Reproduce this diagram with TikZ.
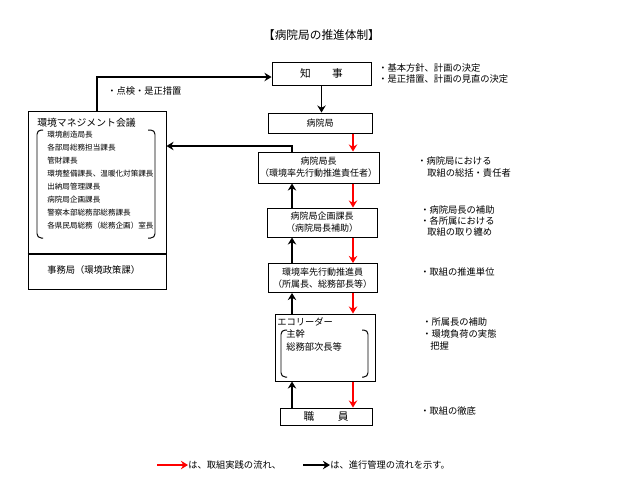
\documentclass[tikz,border=0pt]{standalone}
\usepackage{fontspec}
\setmainfont{Noto Sans CJK JP}
\usetikzlibrary{arrows.meta}
\begin{document}
\begin{tikzpicture}[x=.025cm,y=-.025cm,
  box/.style={draw,line width=.7pt,inner sep=0pt,align=center,font=\fontsize{6.4}{8.5}\selectfont},
  sz/.style 2 args={minimum width=#1*.025cm,minimum height=#2*.025cm},
  note/.style={anchor=west,inner sep=0pt,font=\fontsize{6.6}{8}\selectfont},
  item/.style={anchor=west,inner sep=0pt,font=\fontsize{5.4}{7}\selectfont},
  flow/.style={red,line width=1.6pt,-{Stealth[length=5pt,width=6pt]}},
  ctrl/.style={line width=1.4pt,-{Stealth[length=5pt,width=6pt]}}]
\useasboundingbox(0,0)rectangle(643,483);
\node[font=\fontsize{8.3}{10}\selectfont,inner sep=0pt](title)at(321.5,35){【病院局の推進体制】};
% chain of boxes
\node[box,sz={99}{23},font=\fontsize{7.6}{9}\selectfont](chiji)at(321.5,73.5){知\hspace{2em}事};
\node[box,sz={104}{20}](kyoku)at(320,123){病院局};
\node[box,sz={121}{31}](kyokucho)at(318.5,167.5){病院局長\\（環境率先行動推進責任者）};
\node[box,sz={110}{29}](kikaku)at(322,222.5){病院局企画課長\\（病院局長補助）};
\node[box,sz={109}{29}](suishin)at(322.5,278){環境率先行動推進員\\（所属長、総務部長等）};
\node[box,sz={100}{67}](eco)at(325,347.5){};
\node[box,sz={92}{17},font=\fontsize{7.6}{9}\selectfont](shokuin)at(326,416.5){職\hspace{2.2em}員};
\node[item,font=\fontsize{6.6}{8}\selectfont](ecol)at(277,322){エコリーダー};
\node[item,font=\fontsize{6.6}{8}\selectfont](eco1)at(286,334){主幹};\node[item,font=\fontsize{6.6}{8}\selectfont](eco2)at(286,347){総務部次長等};
\draw[line width=.7pt,rounded corners=3pt](287,330)--(281,330)--(281,377)--(287,377);\draw[line width=.7pt,rounded corners=3pt](362,330)--(368,330)--(368,377)--(362,377);
% council box
\node[draw,line width=.7pt,sz={138}{178}](kaigi)at(97,200){};
\coordinate(sep)at(0,254);\draw[line width=1.4pt](kaigi.west|-sep)--(kaigi.east|-sep);
\node[note,font=\fontsize{7}{8}\selectfont](kname)at(37,123){環境マネジメント会議};
\node[note](jimu)at(47,270){事務局（環境政策課）};
\draw[line width=.7pt,rounded corners=3pt](43,130)--(37,130)--(37,238)--(43,238);\draw[line width=.7pt,rounded corners=3pt](148,130)--(155,130)--(155,238)--(148,238);
\node[item](m1)at(47,135){環境創造局長};\node[item](m2)at(47,148){各部局総務担当課長};
\node[item](m3)at(47,161){管財課長};\node[item](m4)at(47,174){環境整備課長、温暖化対策課長};
\node[item](m5)at(47,187){出納局管理課長};\node[item](m6)at(47,200){病院局企画課長};
\node[item](m7)at(47,213){警察本部総務部総務課長};\node[item](m8)at(47,226){各県民局総務（総務企画）室長};
% notes on the right
\node[note](n1)at(378,68){・基本方針、計画の決定};\node[note](n2)at(378,79){・是正措置、計画の見直の決定};
\node[note](n3)at(417,161){・病院局における};\node[note](n4)at(427,173){取組の総括・責任者};
\node[note](n5)at(420,210){・病院局長の補助};\node[note](n6)at(420,221){・各所属における};\node[note](n7)at(427,232){取組の取り纏め};
\node[note](n8)at(420,272){・取組の推進単位};
\node[note](n9)at(422,322){・所属長の補助};\node[note](n10)at(422,334){・環境負荷の実態};\node[note](n11)at(430,346){把握};
\node[note](n12)at(420,411){・取組の徹底};
% connectors
\coordinate(rx)at(353,0);\coordinate(bx)at(292,0);
\draw[ctrl](chiji.south)--(chiji.south|-kyoku.north);
\draw[flow](kyoku.south-|rx)--(kyokucho.north-|rx);\draw[flow](kyokucho.south-|rx)--(kikaku.north-|rx);
\draw[flow](kikaku.south-|rx)--(suishin.north-|rx);\draw[flow](suishin.south-|rx)--(eco.north-|rx);
\draw[flow](eco.south-|rx)--(shokuin.north-|rx);
\draw[ctrl](shokuin.north-|bx)--(eco.south-|bx);\draw[ctrl](eco.north-|bx)--(suishin.south-|bx);
\draw[ctrl](suishin.north-|bx)--(kikaku.south-|bx);\draw[ctrl](kikaku.north-|bx)--(kyokucho.south-|bx);
\coordinate(fb)at(292,146);\draw[ctrl](kyokucho.north-|bx)--(fb)--(fb-|kaigi.east);
\coordinate(tk)at(97,77);\draw[ctrl](kaigi.north)--(tk)--(tk-|chiji.west);
\node[note](tlab)at(107,91){・点検・是正措置};
% legend
\node[note](lg1)at(188,465){は、取組実践の流れ、};\coordinate(lr)at(157,465);\draw[flow,line width=2pt](lr)--(lg1.west);
\node[note](lg2)at(330,465){は、進行管理の流れを示す。};\coordinate(lb)at(303,465);\draw[ctrl](lb)--(lg2.west);
\end{tikzpicture}
\end{document}
